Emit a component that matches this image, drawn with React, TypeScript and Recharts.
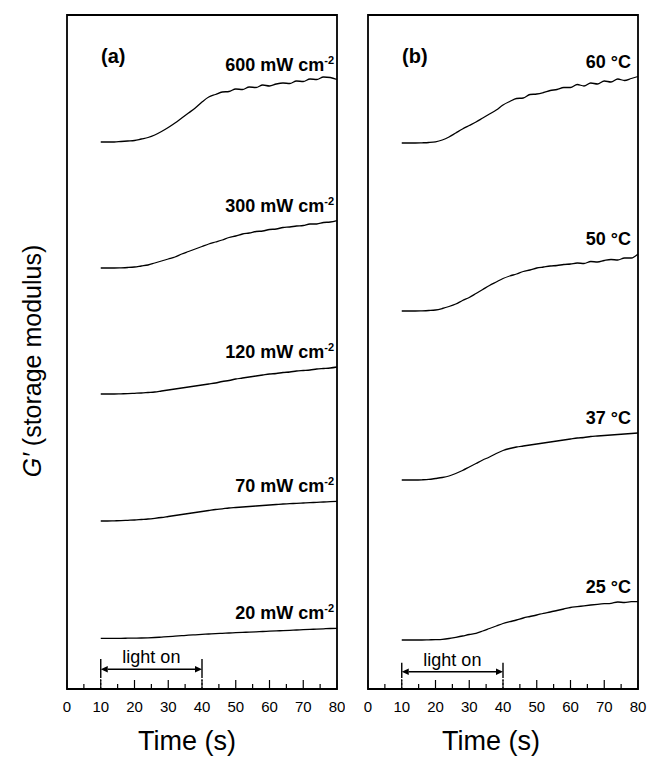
import React from 'react';
import { LineChart, Line, XAxis, YAxis, ReferenceArea, ReferenceLine, LabelList, Label } from 'recharts';

const FONT = '"Liberation Sans", Arial, Helvetica, sans-serif';

// time (s), sampled every 2 s while the lamp is on and after
const time = [10, 12, 14, 16, 18, 20, 22, 24, 26, 28, 30, 32, 34, 36, 38, 40, 42, 44, 46, 48, 50, 52, 54, 56, 58, 60, 62, 64, 66, 68, 70, 72, 74, 76, 78, 80];

// (a) light intensity series, G' in arbitrary (offset) units
const irr600 = [54.7, 54.7, 54.7, 54.75, 54.8, 54.85, 55.0, 55.15, 55.4, 55.75, 56.15, 56.6, 57.1, 57.6, 58.1, 58.7, 59.2, 59.45, 59.7, 59.75, 60.0, 59.95, 60.2, 60.15, 60.4, 60.3, 60.5, 60.6, 60.55, 60.8, 60.75, 61.0, 60.95, 61.2, 61.15, 60.95];
const irr300 = [42.1, 42.1, 42.1, 42.12, 42.15, 42.2, 42.3, 42.4, 42.6, 42.8, 43.0, 43.2, 43.5, 43.75, 44.0, 44.25, 44.5, 44.7, 44.9, 45.15, 45.3, 45.5, 45.6, 45.75, 45.8, 45.95, 46.0, 46.15, 46.2, 46.3, 46.35, 46.5, 46.5, 46.65, 46.7, 46.85];
const irr120 = [29.5, 29.5, 29.5, 29.52, 29.54, 29.57, 29.6, 29.65, 29.7, 29.8, 29.9, 30.0, 30.1, 30.2, 30.3, 30.4, 30.5, 30.6, 30.75, 30.85, 31.0, 31.1, 31.2, 31.3, 31.4, 31.5, 31.55, 31.65, 31.7, 31.8, 31.85, 31.9, 32.0, 32.05, 32.1, 32.2];
const irr70 = [16.8, 16.8, 16.82, 16.84, 16.87, 16.9, 16.95, 17.0, 17.07, 17.15, 17.25, 17.35, 17.45, 17.55, 17.65, 17.75, 17.85, 17.95, 18.02, 18.1, 18.15, 18.2, 18.25, 18.3, 18.35, 18.4, 18.45, 18.5, 18.53, 18.57, 18.6, 18.63, 18.67, 18.7, 18.74, 18.77];
const irr20 = [5.07, 5.07, 5.07, 5.07, 5.08, 5.09, 5.1, 5.12, 5.15, 5.19, 5.23, 5.28, 5.33, 5.38, 5.42, 5.46, 5.5, 5.54, 5.57, 5.6, 5.63, 5.66, 5.69, 5.72, 5.75, 5.78, 5.81, 5.84, 5.87, 5.9, 5.93, 5.96, 5.99, 6.02, 6.05, 6.07];

// (b) temperature series
const temp60 = [54.6, 54.6, 54.6, 54.62, 54.65, 54.72, 54.9, 55.2, 55.6, 56.0, 56.35, 56.7, 57.1, 57.5, 57.9, 58.4, 58.75, 59.05, 59.1, 59.45, 59.5, 59.65, 59.85, 59.95, 60.15, 60.15, 60.45, 60.3, 60.6, 60.5, 60.8, 60.7, 61.0, 60.85, 61.05, 61.25];
const temp50 = [37.8, 37.8, 37.8, 37.82, 37.85, 37.9, 38.05, 38.25, 38.5, 38.85, 39.15, 39.55, 39.95, 40.35, 40.7, 41.05, 41.3, 41.5, 41.75, 41.9, 42.1, 42.2, 42.3, 42.35, 42.45, 42.5, 42.6, 42.55, 42.75, 42.7, 42.85, 42.95, 42.9, 43.1, 43.1, 43.5];
const temp37 = [20.9, 20.9, 20.9, 20.92, 20.96, 21.05, 21.15, 21.3, 21.55, 21.85, 22.2, 22.55, 22.9, 23.2, 23.55, 23.85, 24.05, 24.2, 24.3, 24.4, 24.5, 24.6, 24.7, 24.8, 24.9, 25.0, 25.1, 25.15, 25.25, 25.3, 25.35, 25.4, 25.45, 25.5, 25.55, 25.6];
const temp25 = [4.9, 4.9, 4.9, 4.9, 4.92, 4.94, 4.97, 5.05, 5.17, 5.3, 5.45, 5.57, 5.8, 6.05, 6.3, 6.55, 6.73, 6.9, 7.1, 7.25, 7.4, 7.57, 7.7, 7.85, 8.0, 8.15, 8.23, 8.32, 8.4, 8.47, 8.53, 8.57, 8.7, 8.65, 8.73, 8.73];

const xTicks = [0, 5, 10, 15, 20, 25, 30, 35, 40, 45, 50, 55, 60, 65, 70, 75, 80];
const yMax = 67.4;
const lightStart = 10;
const lightEnd = 40;

const seriesA = [
  { key: 'i600', values: irr600, text: '600 mW cm', sup: '-2' },
  { key: 'i300', values: irr300, text: '300 mW cm', sup: '-2' },
  { key: 'i120', values: irr120, text: '120 mW cm', sup: '-2' },
  { key: 'i70', values: irr70, text: '70 mW cm', sup: '-2' },
  { key: 'i20', values: irr20, text: '20 mW cm', sup: '-2' },
];
const seriesB = [
  { key: 't60', values: temp60, text: '60 °C', sup: '' },
  { key: 't50', values: temp50, text: '50 °C', sup: '' },
  { key: 't37', values: temp37, text: '37 °C', sup: '' },
  { key: 't25', values: temp25, text: '25 °C', sup: '' },
];

const buildRows = (series: { key: string; values: number[] }[]) =>
  time.map((t, i) => {
    const row: Record<string, number> = { t };
    series.forEach((s) => (row[s.key] = s.values[i]));
    return row;
  });

const dataA = buildRows(seriesA);
const dataB = buildRows(seriesB);
const last = time.length - 1;

const TimeTick = (props: any) => {
  const { x, y, payload } = props;
  const major = payload.value % 10 === 0;
  return (
    <g>
      <line x1={x} x2={x} y1={y} y2={y - (major ? 9 : 5)} stroke="#000" strokeWidth={1.2} />
      {major && (
        <text x={x} y={y + 23} textAnchor="middle" fontFamily={FONT} fontSize={15} fill="#000">
          {payload.value}
        </text>
      )}
    </g>
  );
};

const curveLabel = (text: string, sup: string, shift: number) => (props: any) => {
  const { x, y, index } = props;
  if (index !== last) return null;
  return (
    <text x={x + shift} y={y - 9} textAnchor="end" fontFamily={FONT} fontSize={18} fontWeight="bold" fill="#000">
      {text}
      {sup && (
        <tspan dy={-7} fontSize={11}>
          {sup}
        </tspan>
      )}
    </text>
  );
};

const LightArrow = (props: any) => {
  const { x1, y1, x2, y2 } = props;
  const h = 7;
  const w = 3.2;
  return (
    <g>
      <line x1={x1 + h} y1={y1} x2={x2 - h} y2={y2} stroke="#000" strokeWidth={1.4} />
      <polygon points={`${x1},${y1} ${x1 + h},${y1 - w} ${x1 + h},${y1 + w}`} fill="#000" />
      <polygon points={`${x2},${y2} ${x2 - h},${y2 - w} ${x2 - h},${y2 + w}`} fill="#000" />
      <text x={(x1 + x2) / 2} y={y1 - 6} textAnchor="middle" fontFamily={FONT} fontSize={18} fill="#000">
        light on
      </text>
    </g>
  );
};

const YTitle = (props: any) => {
  const vb = props.viewBox || { x: 0, y: 15, width: 67, height: 674 };
  const cx = vb.x + vb.width / 2 - 2;
  const cy = vb.y + vb.height / 2 + 9;
  return (
    <text
      x={cx}
      y={cy}
      transform={`rotate(-90, ${cx}, ${cy})`}
      textAnchor="middle"
      dominantBaseline="central"
      fontFamily={FONT}
      fontSize={25}
      fill="#000"
    >
      <tspan fontStyle="italic">G′</tspan> (storage modulus)
    </text>
  );
};

const Panel = ({ data, series, tag, arrowY, barTop, labelShift, titleShift, showYTitle, left, width, margin }: any) => (
  <div style={{ position: 'absolute', left, top: 0 }}>
    <LineChart width={width} height={760} data={data} margin={margin}>
      <XAxis
        dataKey="t"
        type="number"
        domain={[0, 80]}
        ticks={xTicks}
        interval={0}
        height={71}
        tickSize={0}
        tickMargin={0}
        tickLine={false}
        axisLine={false}
        tick={<TimeTick />}
      >
        <Label value="Time (s)" position="insideBottom" offset={10} dx={titleShift} fontSize={27} fontFamily={FONT} fill="#000" />
      </XAxis>
      {showYTitle ? (
        <YAxis type="number" domain={[0, yMax]} allowDataOverflow width={67} tick={false} tickLine={false} axisLine={false}>
          <Label content={<YTitle />} />
        </YAxis>
      ) : (
        <YAxis type="number" domain={[0, yMax]} allowDataOverflow hide />
      )}
      <ReferenceArea
        x1={0}
        x2={80}
        y1={0}
        y2={yMax}
        stroke="#000"
        strokeWidth={1.8}
        fill="none"
        fillOpacity={0}
        label={{ value: tag, position: 'insideTopLeft', offset: 34, fontSize: 20, fontWeight: 'bold', fontFamily: FONT, fill: '#000' }}
      />
      <ReferenceLine segment={[{ x: lightStart, y: 1.1 }, { x: lightStart, y: barTop }]} stroke="#000" strokeWidth={1.4} />
      <ReferenceLine segment={[{ x: lightEnd, y: 1.1 }, { x: lightEnd, y: barTop }]} stroke="#000" strokeWidth={1.4} />
      <ReferenceLine segment={[{ x: lightStart, y: 0 }, { x: lightStart, y: 1.1 }]} stroke="#000" strokeWidth={1} strokeDasharray="2 2" />
      <ReferenceLine segment={[{ x: lightEnd, y: 0 }, { x: lightEnd, y: 1.1 }]} stroke="#000" strokeWidth={1} strokeDasharray="2 2" />
      <ReferenceLine segment={[{ x: lightStart, y: arrowY }, { x: lightEnd, y: arrowY }]} shape={(p: any) => <LightArrow {...p} />} />
      {series.map((s: any) => (
        <Line key={s.key} dataKey={s.key} type="monotone" stroke="#000" strokeWidth={1.3} dot={false} isAnimationActive={false}>
          <LabelList dataKey={s.key} content={curveLabel(s.text, s.sup, labelShift)} />
        </Line>
      ))}
    </LineChart>
  </div>
);

export default function App() {
  return (
    <div style={{ position: 'absolute', left: 0, top: 0, width: 648, height: 760, background: '#fff' }}>
      <Panel
        data={dataA}
        series={seriesA}
        tag="(a)"
        arrowY={1.97}
        barTop={3.0}
        labelShift={-3}
        titleShift={-15}
        showYTitle
        left={0}
        width={345}
        margin={{ top: 15, right: 8, bottom: 0, left: 0 }}
      />
      <Panel
        data={dataB}
        series={seriesB}
        tag="(b)"
        arrowY={1.73}
        barTop={2.63}
        labelShift={-7}
        titleShift={-12}
        showYTitle={false}
        left={345}
        width={303}
        margin={{ top: 15, right: 10, bottom: 0, left: 23 }}
      />
    </div>
  );
}
